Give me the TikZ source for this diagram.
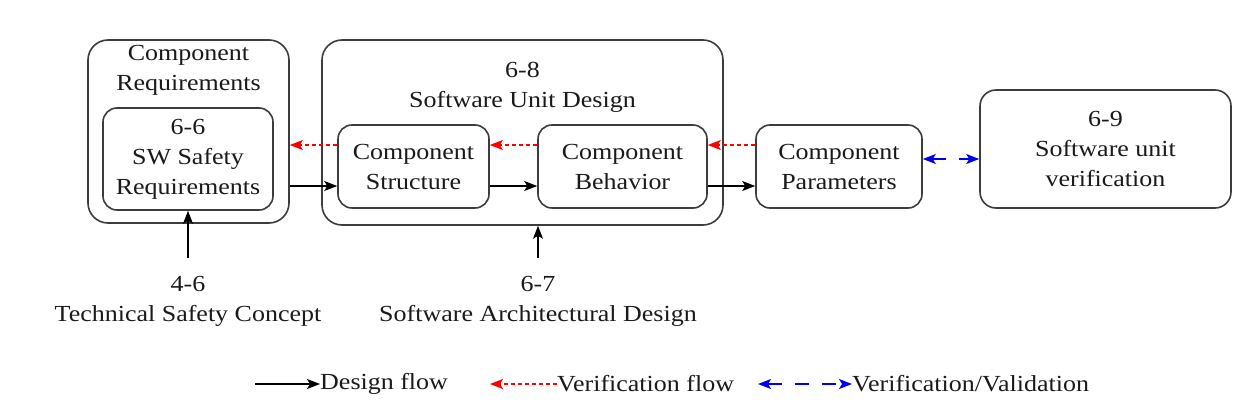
\documentclass[tikz,border=0pt]{standalone}
\usepackage{fontspec}
\setmainfont{Liberation Serif}[FakeStretch=1.13]
\usetikzlibrary{arrows.meta,calc}
\definecolor{boxline}{HTML}{3C3C3C}
\definecolor{inktext}{HTML}{1A1A1A}
\definecolor{verred}{HTML}{FF0000}
\definecolor{valblue}{HTML}{0000F0}
\begin{document}
\begin{tikzpicture}[x=1pt,y=-1pt,
  every node/.style={text=inktext,font=\fontsize{23}{30}\selectfont},
  box/.style={draw=boxline,line width=1.6pt,rounded corners=#1,inner sep=0pt,align=center},
  box/.default=14pt,
  txt/.style={inner sep=0pt,align=center},
  design/.style={draw=black,line width=1.3pt,-{Stealth[length=13pt,width=10pt,inset=3pt]}},
  verif/.style={draw=verred,line width=1.3pt,dash pattern=on 4pt off 3pt,-{Stealth[length=13pt,width=10pt,inset=3pt]}},
  valid/.style={draw=valblue,line width=1.3pt,dash pattern=on 14pt off 13pt,
    {Stealth[length=13pt,width=10pt,inset=3pt]}-{Stealth[length=13pt,width=10pt,inset=3pt]}}]
\useasboundingbox[fill=white] (0,0) rectangle (1245,415);

% container boxes
\node[box=20pt,minimum width=201pt,minimum height=183pt] (reqOuter) at (188.5,131.5) {};
\node[txt] (reqTitle) at (188.5,70) {Component\\Requirements};
\node[box=20pt,minimum width=401pt,minimum height=185pt] (sud) at (522.5,132.5) {};
\node[txt] (sudTitle) at (522.5,87) {6-8\\Software Unit Design};

% inner boxes
\node[box,minimum width=170pt,minimum height=102pt] (req66) at (188,159) {6-6\\SW Safety\\Requirements};
\node[box,minimum width=151pt,minimum height=83pt] (struct) at (413.5,166.5) {Component\\Structure};
\node[box,minimum width=169pt,minimum height=83pt] (behav) at (622.5,166.5) {Component\\Behavior};
\node[box,minimum width=166pt,minimum height=83pt] (params) at (839,166.5) {Component\\Parameters};
\node[box=16pt,minimum width=251pt,minimum height=118pt] (ver) at (1105.5,149) {6-9\\Software unit\\verification};

% inputs from other work products
\node[txt] (tsc) at (188,301) {4-6\\Technical Safety Concept};
\node[txt] (sad) at (538,301) {6-7\\Software Architectural Design};
\coordinate (tscTail) at (188,258);
\coordinate (sadTail) at (538,258);
\draw[design] (tscTail) -- (req66.south);
\draw[design] (sadTail) -- (sud.south -| sadTail);

% design flow
\draw[design] ([yshift=-54.5pt]reqOuter.east) -- ([yshift=-19.5pt]struct.west);
\draw[design] ([yshift=-19.5pt]struct.east) -- ([yshift=-19.5pt]behav.west);
\draw[design] ([yshift=-19.5pt]behav.east) -- ([yshift=-19.5pt]params.west);

% verification flow
\draw[verif] ([yshift=21.5pt]params.west) -- ([yshift=21.5pt]behav.east);
\draw[verif] ([yshift=21.5pt]behav.west) -- ([yshift=21.5pt]struct.east);
\draw[verif] ([yshift=21.5pt]struct.west) -- ([yshift=-13.5pt]reqOuter.east);

% verification / validation
\draw[valid] ([yshift=7.5pt]params.east) -- ([yshift=-10pt]ver.west);

% legend
\node[txt,anchor=west] (lgDesign) at (320,384) {Design flow};
\node[txt,anchor=west] (lgVerif) at (557,384) {Verification flow};
\node[txt,anchor=west] (lgValid) at (852,384) {Verification/Validation};
\coordinate (lgDesignTail) at (255,384);
\coordinate (lgVerifTip) at (490,384);
\coordinate (lgValidTip) at (758,384);
\draw[design] (lgDesignTail) -- (lgDesign.west);
\draw[verif] (lgVerif.west) -- (lgVerifTip);
\draw[valid] (lgValidTip) -- (lgValid.west);
\end{tikzpicture}
\end{document}
